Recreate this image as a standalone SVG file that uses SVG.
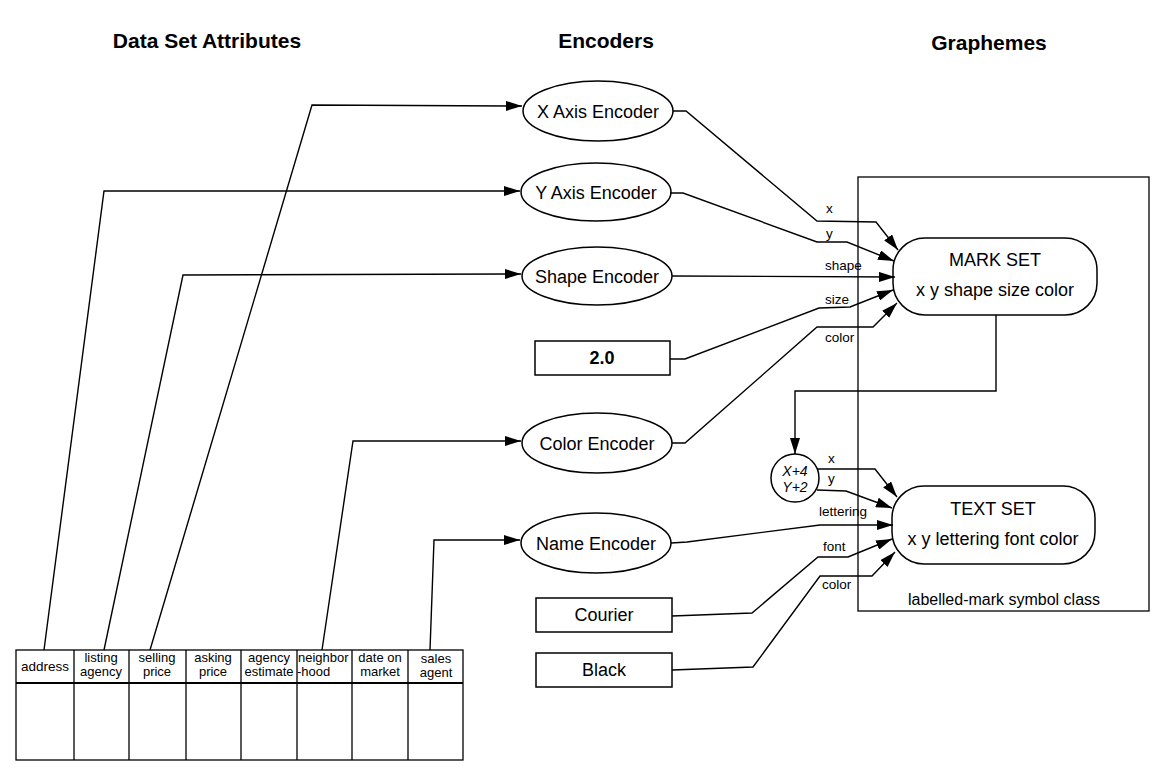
<svg xmlns="http://www.w3.org/2000/svg" width="1168" height="777" viewBox="0 0 1168 777">
<style>
.hdr{font-family:"Liberation Sans",Arial,sans-serif;font-weight:bold;font-size:21px;text-anchor:middle;fill:#000}
.lbl{font-family:"Liberation Sans",Arial,sans-serif;font-size:18px;text-anchor:middle;fill:#000}
.sm{font-family:"Liberation Sans",Arial,sans-serif;font-size:13.5px;fill:#000}
.tb{font-family:"Liberation Sans",Arial,sans-serif;font-size:13px;text-anchor:middle;fill:#000}
.shape{fill:#fff;stroke:#000;stroke-width:1.5}
.conn{fill:none;stroke:#000;stroke-width:1.4;stroke-linejoin:miter}
.frame{fill:none;stroke:#000;stroke-width:1.3}
</style>
<defs>
<marker id="arr" viewBox="0 0 16 10" refX="16" refY="5" markerWidth="16" markerHeight="10" markerUnits="userSpaceOnUse" orient="auto">
<path d="M0,0 L16,5 L0,10 z" fill="#000"/>
</marker>
<clipPath id="nbclip"><rect x="297" y="650" width="55" height="33"/></clipPath>
</defs>
<rect width="1168" height="777" fill="#fff"/>

<g id="headers">
<text class="hdr" x="207" y="48">Data Set Attributes</text>
<text class="hdr" x="606" y="48">Encoders</text>
<text class="hdr" x="989" y="50">Graphemes</text>
</g>

<g id="symbol-class">
<rect class="frame" x="858" y="177" width="291" height="434"/>
<text class="lbl" x="908" y="605" style="text-anchor:start;font-size:16px">labelled-mark symbol class</text>
</g>

<g id="table">
<rect class="frame" x="16" y="650" width="447" height="110" stroke-width="1.5"/>
<line x1="16" y1="683" x2="463" y2="683" stroke="#000" stroke-width="2.2"/>
<g stroke="#000" stroke-width="1.3">
<line x1="74" y1="650" x2="74" y2="760"/>
<line x1="129" y1="650" x2="129" y2="760"/>
<line x1="186" y1="650" x2="186" y2="760"/>
<line x1="241" y1="650" x2="241" y2="760"/>
<line x1="297" y1="650" x2="297" y2="760"/>
<line x1="352" y1="650" x2="352" y2="760"/>
<line x1="408" y1="650" x2="408" y2="760"/>
</g>
<text class="tb" x="45" y="671" style="font-size:13.5px">address</text>
<text class="tb" x="101" y="662">listing</text>
<text class="tb" x="101" y="676">agency</text>
<text class="tb" x="157" y="662">selling</text>
<text class="tb" x="157" y="676">price</text>
<text class="tb" x="213" y="662">asking</text>
<text class="tb" x="213" y="676">price</text>
<text class="tb" x="269" y="662">agency</text>
<text class="tb" x="269" y="676">estimate</text>
<g clip-path="url(#nbclip)">
<text class="tb" x="298" y="662" style="text-anchor:start">neighbor</text>
<text class="tb" x="297" y="676" style="text-anchor:start">-hood</text>
</g>
<text class="tb" x="380" y="662">date on</text>
<text class="tb" x="380" y="676">market</text>
<text class="tb" x="436" y="663">sales</text>
<text class="tb" x="436" y="677">agent</text>
</g>

<g id="x-axis-encoder">
<ellipse class="shape" cx="598" cy="111" rx="75" ry="30"/>
<text class="lbl" x="598" y="117.5">X Axis Encoder</text>
</g>
<g id="y-axis-encoder">
<ellipse class="shape" cx="596" cy="192" rx="75" ry="29"/>
<text class="lbl" x="596" y="198.5">Y Axis Encoder</text>
</g>
<g id="shape-encoder">
<ellipse class="shape" cx="597" cy="276" rx="75" ry="29"/>
<text class="lbl" x="597" y="282.5">Shape Encoder</text>
</g>
<g id="size-constant">
<rect class="shape" x="535" y="341" width="135" height="34"/>
<text class="lbl" x="602" y="364" font-weight="bold">2.0</text>
</g>
<g id="color-encoder">
<ellipse class="shape" cx="597" cy="443" rx="75" ry="30"/>
<text class="lbl" x="597" y="449.5">Color Encoder</text>
</g>
<g id="name-encoder">
<ellipse class="shape" cx="596" cy="543" rx="75" ry="30"/>
<text class="lbl" x="596" y="549.5">Name Encoder</text>
</g>
<g id="courier-constant">
<rect class="shape" x="536" y="598" width="136" height="34"/>
<text class="lbl" x="604" y="621">Courier</text>
</g>
<g id="black-constant">
<rect class="shape" x="536" y="653" width="136" height="34"/>
<text class="lbl" x="604" y="676">Black</text>
</g>

<g id="mark-set">
<rect class="shape" x="893" y="238" width="204" height="77" rx="32" ry="32"/>
<text class="lbl" x="995" y="266">MARK SET</text>
<text class="lbl" x="995" y="296">x y shape size color</text>
</g>
<g id="text-set">
<rect class="shape" x="892" y="486" width="203" height="78" rx="32" ry="32"/>
<text class="lbl" x="993" y="515">TEXT SET</text>
<text class="lbl" x="993" y="545">x y lettering font color</text>
</g>
<g id="offset">
<circle class="shape" cx="795" cy="478" r="24"/>
<text class="sm" x="795" y="476" style="text-anchor:middle;font-style:italic;font-size:14px">X+4</text>
<text class="sm" x="795" y="492" style="text-anchor:middle;font-style:italic;font-size:14px">Y+2</text>
</g>

<g id="connectors">
<path class="conn" marker-end="url(#arr)" d="M44,650 L104,191 L520,191"/>
<path class="conn" marker-end="url(#arr)" d="M104,650 L183,275 L521,274"/>
<path class="conn" marker-end="url(#arr)" d="M150,650 L312,105 L522,106"/>
<path class="conn" marker-end="url(#arr)" d="M322,650 L353,441 L521,441"/>
<path class="conn" marker-end="url(#arr)" d="M430,650 L434,540 L520,540"/>

<path class="conn" marker-end="url(#arr)" d="M673,111 L686,111 L817,221 L876,222 L898,250"/>
<path class="conn" marker-end="url(#arr)" d="M670,193 L683,193 L817,242 L847,242 L894,261"/>
<path class="conn" marker-end="url(#arr)" d="M672,276 L895,277"/>
<path class="conn" marker-end="url(#arr)" d="M670,359 L685,359 L819,308 L850,307 L893,290"/>
<path class="conn" marker-end="url(#arr)" d="M672,443 L685,443 L817,327 L873,327 L897,303"/>

<path class="conn" marker-end="url(#arr)" d="M996,315 L996,391 L795,391 L795,454"/>

<path class="conn" marker-end="url(#arr)" d="M817,469 L875,469 L897,497"/>
<path class="conn" marker-end="url(#arr)" d="M817,490 L846,491 L892,508"/>
<path class="conn" marker-end="url(#arr)" d="M671,543 L687,542 L820,525 L893,525"/>
<path class="conn" marker-end="url(#arr)" d="M672,616 L752,613 L818,557 L848,557 L892,539"/>
<path class="conn" marker-end="url(#arr)" d="M672,670 L753,667 L820,576 L872,576 L895,552"/>

<g id="connector-labels">
<text class="sm" x="826" y="213">x</text>
<text class="sm" x="826" y="238">y</text>
<text class="sm" x="825" y="270">shape</text>
<text class="sm" x="825" y="304">size</text>
<text class="sm" x="825" y="342">color</text>
<text class="sm" x="828" y="463">x</text>
<text class="sm" x="828" y="483">y</text>
<text class="sm" x="819" y="516">lettering</text>
<text class="sm" x="823" y="551">font</text>
<text class="sm" x="822" y="589">color</text>
</g>
</g>
</svg>
